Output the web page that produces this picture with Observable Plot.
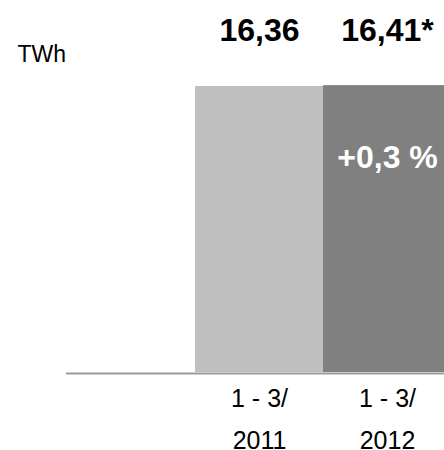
<!DOCTYPE html>
<html>
<head>
<meta charset="utf-8">
<script src="https://cdn.jsdelivr.net/npm/d3@7"></script>
<script src="https://cdn.jsdelivr.net/npm/@observablehq/plot@0.6"></script>
<style>
  html, body { margin: 0; padding: 0; background: #fff; overflow: hidden; }
  svg { font-family: "Liberation Sans", Arial, sans-serif; }
</style>
</head>
<body>
<div id="chart"></div>
<script>
const categories = ["", "1 - 3/\n2011", "1 - 3/\n2012"];
const values = [null, 16.36, 16.41];
const valueLabels = ["", "16,36", "16,41*"];
const barColors = ["#ffffff", "#bfbfbf", "#808080"];
const changeLabel = "+0,3 %";
const unitLabel = "TWh";

const data = categories.map((c, i) => ({cat: c, value: values[i], label: valueLabels[i], color: barColors[i]}));
const bars = data.filter(d => d.value != null);

const chart = Plot.plot({
  width: 444,
  height: 450,
  marginTop: 0,
  marginLeft: 66,
  marginRight: 0,
  marginBottom: 78,
  style: {fontFamily: "'Liberation Sans', Arial, sans-serif", background: "#fff"},
  x: {domain: categories, range: [66, 452], padding: 0, label: null},
  y: {domain: [0, 16.36], range: [372, 86], axis: null},
  marks: [
    Plot.barY(bars, {x: "cat", y: "value", fill: "color", inset: 0}),
    Plot.ruleY([0], {stroke: "#9a9a9a", strokeWidth: 2.2, dy: 1}),
    Plot.axisX({tickSize: 0, tickPadding: 4, fontSize: 25, lineHeight: 1.7, fill: "#000", label: null, tickFormat: d => d}),
    Plot.text(bars, {x: "cat", text: "label", frameAnchor: "top", dy: 30, lineAnchor: "middle", fontSize: 32, fontWeight: "bold", fill: "#000"}),
    Plot.text(bars.slice(1), {x: "cat", text: () => changeLabel, frameAnchor: "top", dy: 157, lineAnchor: "middle", fontSize: 32, fontWeight: "bold", fill: "#fff"}),
    Plot.text([unitLabel], {text: d => d, frameAnchor: "top-left", dx: -49, dy: 54, lineAnchor: "middle", textAnchor: "start", fontSize: 23, fill: "#000"})
  ]
});
document.getElementById("chart").appendChild(chart);
</script>
</body>
</html>
